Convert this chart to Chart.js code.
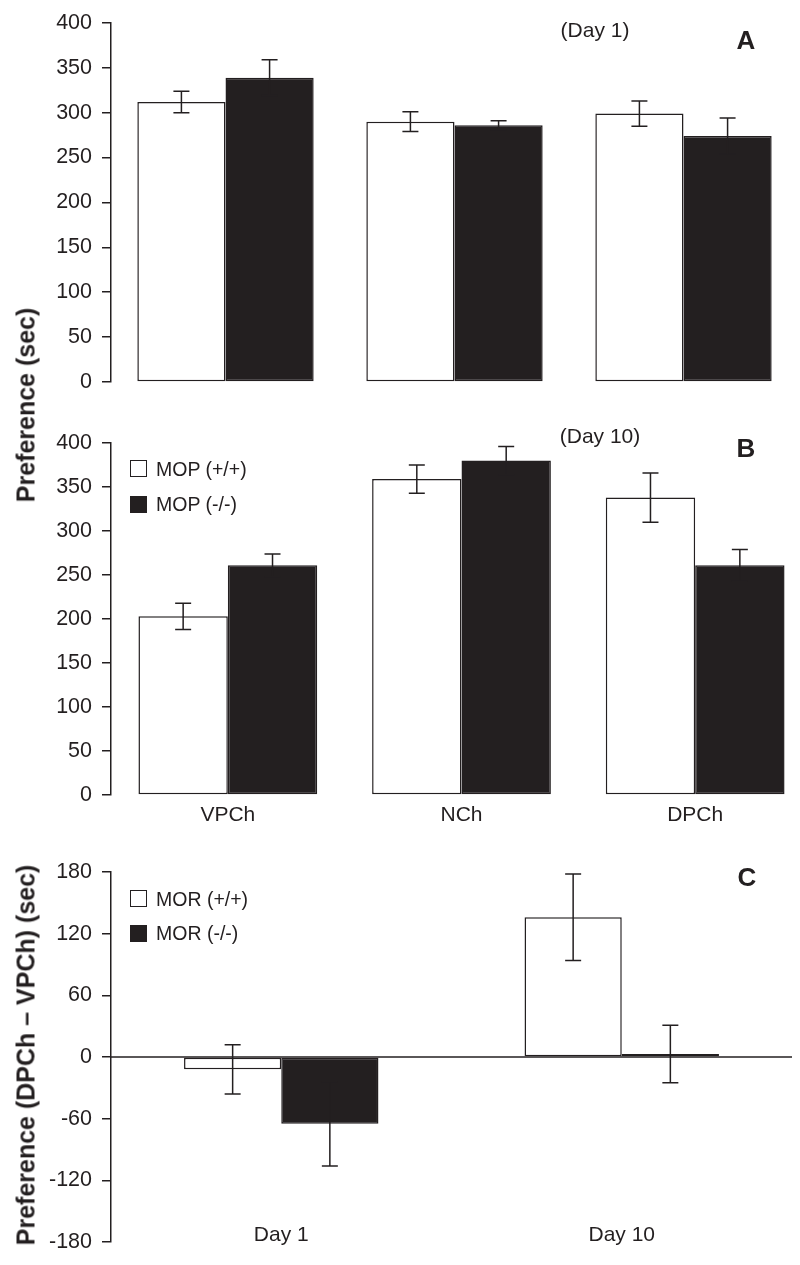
<!DOCTYPE html>
<html>
<head>
<meta charset="utf-8">
<script src="https://cdn.jsdelivr.net/npm/chart.js@4/dist/chart.umd.min.js"></script>
<style>
    html, body { margin: 0; padding: 0; background: #fff; overflow: hidden; }
    body { width: 800px; height: 1265px; position: relative; font-family: "Liberation Sans", Arial, sans-serif; color: #231f20; }
    canvas { position: absolute; left: 0; }
    .txt { position: absolute; white-space: nowrap; transform: translate(-50%, -50%); }
    .ytitle { position: absolute; white-space: nowrap; font-weight: bold; transform: translate(-50%, -50%) rotate(-90deg); }
    .letter { font-weight: bold; font-size: 26px; }
    .note { font-size: 21px; }
    .leg { position: absolute; font-size: 19.5px; white-space: nowrap; }
    .sq { position: absolute; width: 15px; height: 15px; border: 1.5px solid #231f20; background: #fff; }
    .sq.dark { background: #231f20; }
</style>
</head>
<body>
<canvas id="chartA" width="800" height="420" style="top:0"></canvas>
<canvas id="chartB" width="820" height="430" style="top:400px"></canvas>
<canvas id="chartC" width="800" height="425" style="top:840px"></canvas>

<div class="ytitle" style="left:26px; top:405px; font-size:25px">Preference (sec)</div>
<div class="ytitle" style="left:26px; top:1055px; font-size:25px">Preference (DPCh – VPCh) (sec)</div>

<div class="txt note" style="left:595px; top:30px">(Day 1)</div>
<div class="txt letter" style="left:746px; top:40px">A</div>
<div class="txt note" style="left:600px; top:436px">(Day 10)</div>
<div class="txt letter" style="left:746px; top:448px">B</div>
<div class="txt letter" style="left:747px; top:877px">C</div>

<div class="sq" style="left:130px; top:460px"></div>
<div class="leg" style="left:156px; top:458px">MOP (+/+)</div>
<div class="sq dark" style="left:130px; top:496px"></div>
<div class="leg" style="left:156px; top:493px">MOP (-/-)</div>

<div class="sq" style="left:130px; top:890px"></div>
<div class="leg" style="left:156px; top:888px">MOR (+/+)</div>
<div class="sq dark" style="left:130px; top:925px"></div>
<div class="leg" style="left:156px; top:922px">MOR (-/-)</div>

<script>
// Данные
const chambers = ['VPCh', 'NCh', 'DPCh'];

const day1Wild = [312, 290, 299];
const day1WildErr = [12, 11, 14];
const day1Ko = [339, 286, 274];
const day1KoErr = [20, 5, 20];

const day10Wild = [203, 359, 338];
const day10WildErr = [15, 16, 28];
const day10Ko = [261, 380, 261];
const day10KoErr = [13, 16, 18];

const days = ['Day 1', 'Day 10'];
const diffWild = [-12, 136];
const diffWildErr = [24, 42];
const diffKo = [-65, 3];
const diffKoErr = [41, 28];

const INK = '#231f20';
const FONT = '"Liberation Sans", Arial, sans-serif';

// ===== ПЛАГИН: ПЛЕЧИ ОШИБОК =====
const errorBars = {
    id: 'errorBars',
    afterDatasetsDraw(chart) {
        const ctx = chart.ctx;
        const y = chart.scales.y;
        ctx.save();
        ctx.strokeStyle = INK;
        ctx.lineWidth = 1.5;
        chart.data.datasets.forEach((ds, i) => {
            const meta = chart.getDatasetMeta(i);
            meta.data.forEach((bar, j) => {
                const v = ds.data[j];
                const e = ds.errors[j];
                const top = y.getPixelForValue(v + e);
                const bot = y.getPixelForValue(v - e);
                ctx.beginPath();
                ctx.moveTo(bar.x, top);
                ctx.lineTo(bar.x, bot);
                ctx.moveTo(bar.x - 8, top);
                ctx.lineTo(bar.x + 8, top);
                ctx.moveTo(bar.x - 8, bot);
                ctx.lineTo(bar.x + 8, bot);
                ctx.stroke();
            });
        });
        ctx.restore();
    }
};

// ===== ПЛАГИН: НУЛЕВАЯ ЛИНИЯ И ПОДПИСИ ДНЕЙ (панель C) =====
const zeroLine = {
    id: 'zeroLine',
    beforeDatasetsDraw(chart) {
        const ctx = chart.ctx;
        const y0 = chart.scales.y.getPixelForValue(0);
        ctx.save();
        ctx.strokeStyle = INK;
        ctx.lineWidth = 1.5;
        ctx.beginPath();
        ctx.moveTo(chart.chartArea.left, y0);
        ctx.lineTo(chart.chartArea.right, y0);
        ctx.stroke();
        ctx.restore();
    },
    afterDraw(chart) {
        const ctx = chart.ctx;
        const x = chart.scales.x;
        ctx.save();
        ctx.fillStyle = INK;
        ctx.font = '21px ' + FONT;
        ctx.textAlign = 'center';
        ctx.textBaseline = 'middle';
        chart.data.labels.forEach((lbl, i) => {
            ctx.fillText(lbl, x.getPixelForValue(i), chart.chartArea.bottom - 7);
        });
        ctx.restore();
    }
};

function barSet(values, errs, dark) {
    return {
        data: values,
        errors: errs,
        backgroundColor: dark ? INK : '#ffffff',
        borderColor: INK,
        borderWidth: 1.5,
        borderSkipped: false,
        barPercentage: 1.0
    };
}

function yAxis(min, max, step) {
    return {
        min: min,
        max: max,
        afterFit(scale) { scale.width = 111; },
        border: { display: true, color: INK, width: 1.5 },
        grid: { display: true, drawOnChartArea: false, tickLength: 9, color: INK, lineWidth: 1.5 },
        ticks: { stepSize: step, color: INK, padding: 10, font: { family: FONT, size: 21.5 } }
    };
}

function makeChart(id, labels, sets, opts) {
    return new Chart(document.getElementById(id), {
        type: 'bar',
        data: { labels: labels, datasets: sets },
        options: {
            responsive: false,
            animation: false,
            categoryPercentage: opts.cat,
            layout: { padding: opts.padding },
            plugins: { legend: { display: false }, tooltip: { enabled: false } },
            scales: {
                x: opts.x,
                y: yAxis(opts.min, opts.max, opts.step)
            }
        },
        plugins: opts.plugins
    });
}

// Панель A (день 1)
makeChart('chartA', chambers,
    [barSet(day1Wild, day1WildErr, false), barSet(day1Ko, day1KoErr, true)],
    {
        cat: 0.77, min: 0, max: 400, step: 50,
        padding: { top: 20, bottom: 38, left: 0, right: 2 },
        x: { display: false },
        plugins: [errorBars]
    });

// Панель B (день 10)
makeChart('chartB', chambers,
    [barSet(day10Wild, day10WildErr, false), barSet(day10Ko, day10KoErr, true)],
    {
        cat: 0.765, min: 0, max: 400, step: 50,
        padding: { top: 43, bottom: 0, left: 0, right: 8 },
        x: {
            afterFit(scale) { scale.height = 35; },
            border: { display: false },
            grid: { display: false },
            ticks: { color: INK, padding: 0, font: { family: FONT, size: 21 } }
        },
        plugins: [errorBars]
    });

// Панель C (разница DPCh - VPCh)
makeChart('chartC', days,
    [barSet(diffWild, diffWildErr, false), barSet(diffKo, diffKoErr, true)],
    {
        cat: 0.571, min: -180, max: 180, step: 60,
        padding: { top: 32, bottom: 23, left: 0, right: 8 },
        x: { display: false },
        plugins: [zeroLine, errorBars]
    });
</script>
</body>
</html>
